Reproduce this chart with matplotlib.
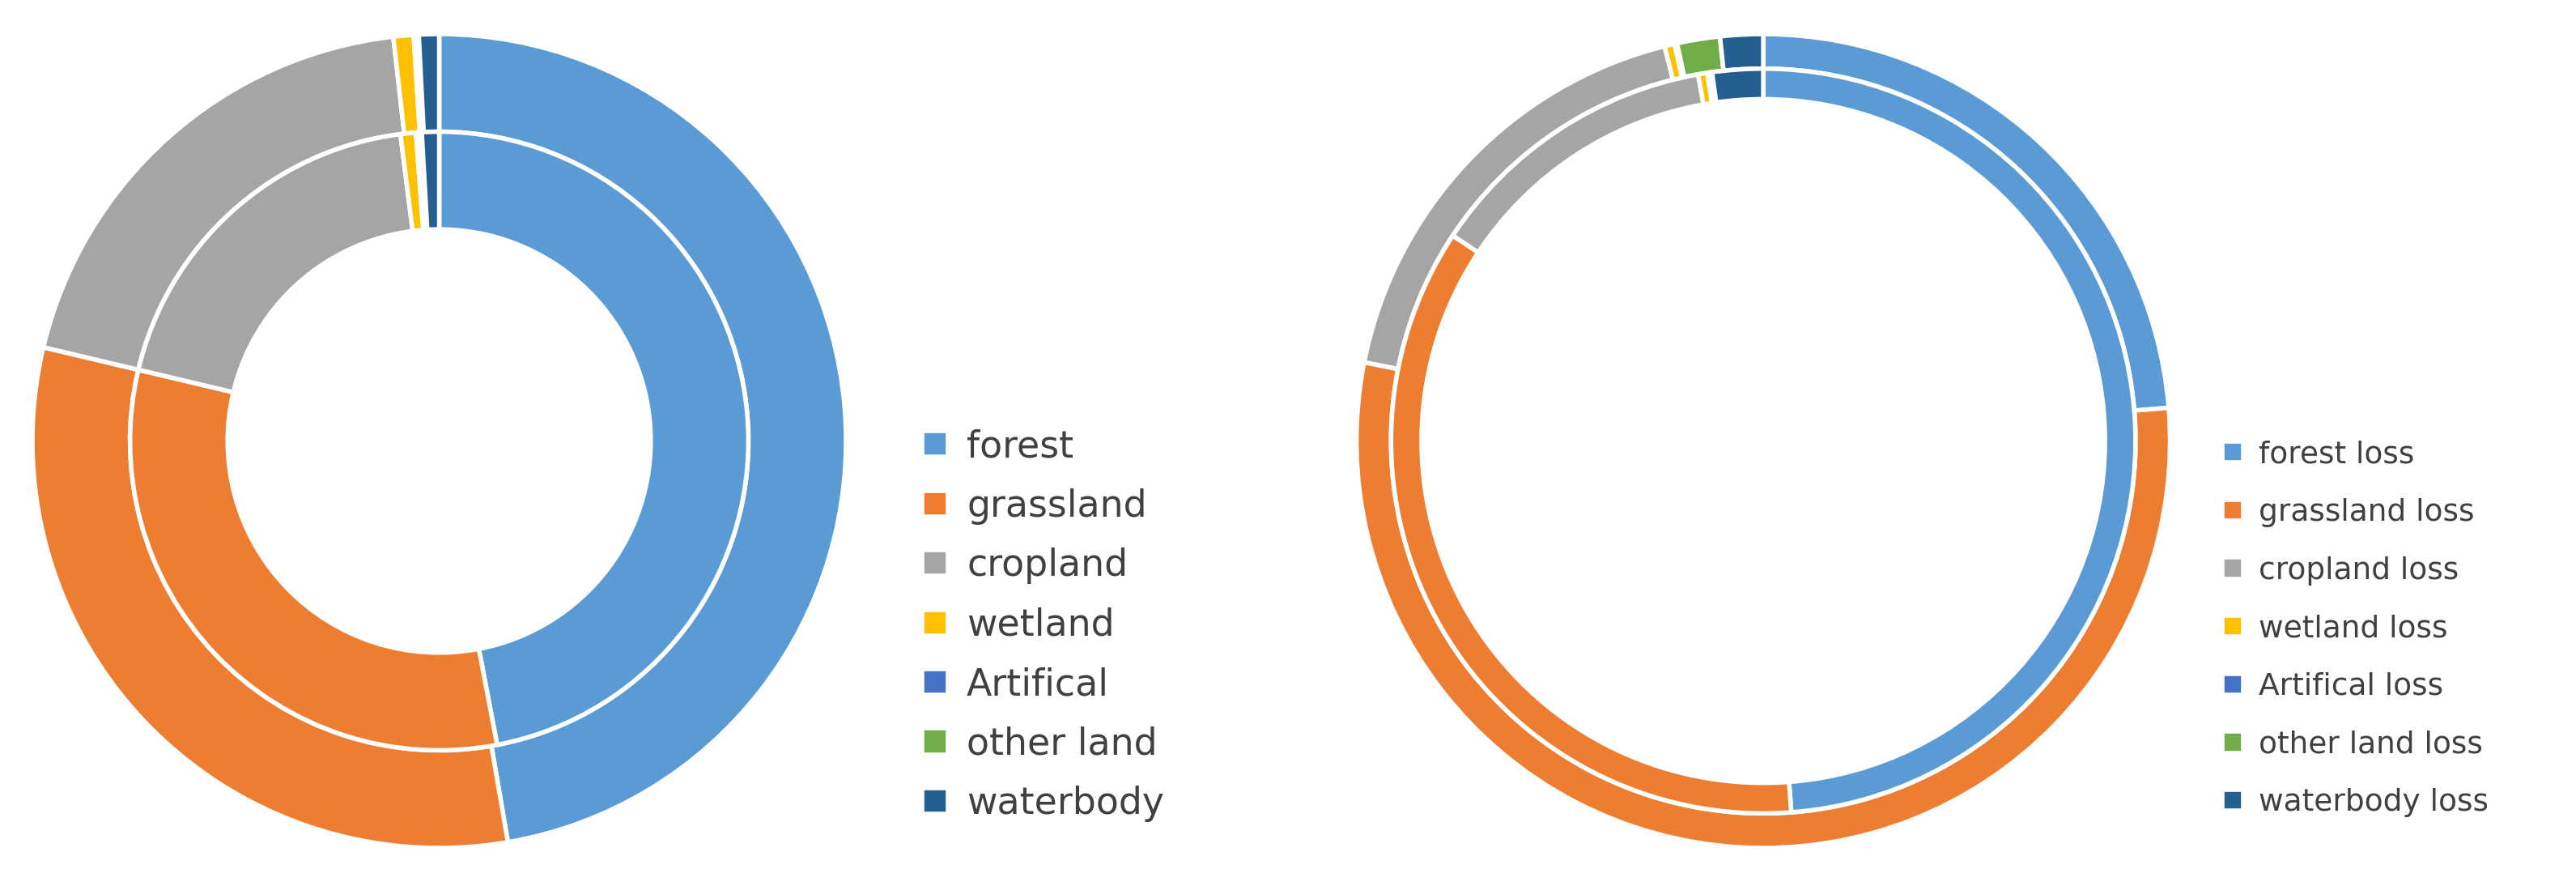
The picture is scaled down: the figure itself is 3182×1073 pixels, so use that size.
import matplotlib.pyplot as plt

# Land-use composition (left) and loss composition (right), percent
labels = ["forest", "grassland", "cropland", "wetland", "Artifical", "other land", "waterbody"]
loss_labels = [s + " loss" for s in labels]
colors = ["#5B9BD5", "#ED7D31", "#A5A5A5", "#FFC000", "#4472C4", "#70AD47", "#255E91"]

left_outer = [47.3, 31.4, 19.5, 0.8, 0.1, 0.1, 0.8]
left_inner = [47.0, 31.7, 19.3, 0.8, 0.2, 0.1, 0.9]
right_outer = [23.7, 54.4, 18.0, 0.4, 0.1, 1.7, 1.7]
right_inner = [48.8, 35.5, 12.9, 0.4, 0.1, 0.1, 2.2]

fig = plt.figure(figsize=(31.82, 10.73), dpi=100)
ax1 = fig.add_axes([0.011, 0.019, 0.319, 0.947])
ax2 = fig.add_axes([0.525, 0.019, 0.319, 0.947])

wp = {"edgecolor": "white", "linewidth": 4}
ax1.pie(left_outer, colors=colors, radius=1.0, startangle=90, counterclock=False,
        wedgeprops=dict(width=0.24, **wp))
wedges, _ = ax1.pie(left_inner, colors=colors, radius=0.76, startangle=90, counterclock=False,
                    wedgeprops=dict(width=0.24, **wp))

ax2.pie(right_outer, colors=colors, radius=1.0, startangle=90, counterclock=False,
        wedgeprops=dict(width=0.085, **wp))
wedges2, _ = ax2.pie(right_inner, colors=colors, radius=0.915, startangle=90, counterclock=False,
                     wedgeprops=dict(width=0.075, **wp))

for ax in (ax1, ax2):
    ax.set_xlim(-1.01, 1.01)
    ax.set_ylim(-1.01, 1.01)
    ax.set_aspect("equal")
    ax.axis("off")

fig.legend(wedges, labels, loc="upper left", bbox_to_anchor=(0.345, 0.545), frameon=False,
           fontsize=33, handlelength=0.7, handleheight=0.7, handletextpad=0.5,
           labelspacing=0.62, labelcolor="#404040")
fig.legend(wedges2, loss_labels, loc="upper left", bbox_to_anchor=(0.852, 0.525), frameon=False,
           fontsize=27, handlelength=0.7, handleheight=0.7, handletextpad=0.5,
           labelspacing=0.95, labelcolor="#404040")

fig.savefig("out.png", dpi=100)
